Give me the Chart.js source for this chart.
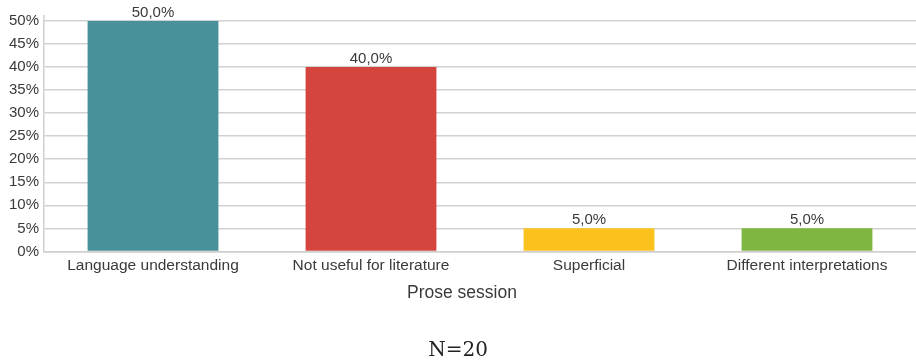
<!DOCTYPE html>
<html>
<head>
<meta charset="utf-8">
<script src="https://cdn.jsdelivr.net/npm/chart.js@4"></script>
<style>
  html, body { margin: 0; padding: 0; background: #fff; }
  #wrap { width: 916px; height: 361px; position: relative; }
</style>
</head>
<body>
<div id="wrap"><canvas id="chart"></canvas></div>
<script>
/* Prose session — reasons, bar chart */

const CATEGORIES = ['Language understanding', 'Not useful for literature', 'Superficial', 'Different interpretations'];
const VALUES = [50.0, 40.0, 5.0, 5.0];
const BAR_COLORS = ['#48919b', '#d4453e', '#fbc21e', '#7fb641'];
const Y_TICKS = [0, 5, 10, 15, 20, 25, 30, 35, 40, 45, 50];
const X_TITLE = 'Prose session';
const NOTE = 'N=20';

const SANS = "'Liberation Sans', Arial, Helvetica, sans-serif";
const SERIF = "'DejaVu Serif', 'Liberation Serif', Georgia, serif";
const TEXT = '#3a3a3a';

/* ─── value labels, axis title, axis stub ─── */
const extras = {
  id: 'extras',
  afterDatasetsDraw(chart) {
    const ctx = chart.ctx;
    const area = chart.chartArea;
    const meta = chart.getDatasetMeta(0);
    ctx.save();

    // y axis line pokes a little above the top gridline
    ctx.strokeStyle = '#cfcfcf';
    ctx.lineWidth = 1.5;
    ctx.beginPath();
    ctx.moveTo(area.left, area.top);
    ctx.lineTo(area.left, area.top - 6);
    ctx.stroke();

    ctx.font = '15px ' + SANS;
    ctx.fillStyle = TEXT;
    ctx.textAlign = 'center';
    ctx.textBaseline = 'alphabetic';
    meta.data.forEach((bar, i) => {
      const txt = VALUES[i].toFixed(1).replace('.', ',') + '%';
      ctx.fillText(txt, bar.x, bar.y - 4);
    });

    // x axis title, centred on the page rather than the plot
    ctx.font = '17.5px ' + SANS;
    ctx.textBaseline = 'middle';
    ctx.fillText(X_TITLE, chart.width / 2 + 4, area.bottom + 42);
    ctx.restore();
  }
};

new Chart(document.getElementById('chart'), {
  type: 'bar',
  data: {
    labels: CATEGORIES,
    datasets: [{
      data: VALUES,
      backgroundColor: BAR_COLORS,
      borderWidth: 0,
      barPercentage: 0.6,
      categoryPercentage: 1
    }]
  },
  options: {
    responsive: true,
    maintainAspectRatio: false,
    animation: false,
    layout: { padding: { top: 21, right: 0, bottom: 0, left: 0 } },
    plugins: {
      legend: { display: false },
      tooltip: { enabled: false },
      title: {
        display: true,
        position: 'bottom',
        text: NOTE,
        color: '#222',
        align: 'center',
        font: { family: SERIF, size: 20, weight: 'normal', lineHeight: 1.0 },
        padding: { top: 61, bottom: 0 }
      }
    },
    scales: {
      x: {
        grid: { display: false, drawTicks: false },
        border: { color: '#cfcfcf', width: 1.5 },
        ticks: { color: TEXT, font: { family: SANS, size: 15.5 }, padding: 5, maxRotation: 0, autoSkip: false }
      },
      y: {
        min: 0,
        max: 50,
        afterFit: s => { s.width = 44; },
        afterBuildTicks: s => { s.ticks = Y_TICKS.map(v => ({ value: v })); },
        grid: { color: '#d2d2d2', lineWidth: 1.5, drawTicks: false },
        border: { color: '#cfcfcf', width: 1.5 },
        ticks: {
          color: TEXT,
          font: { family: SANS, size: 15 },
          padding: 5,
          callback: v => v + '%'
        }
      }
    }
  },
  plugins: [extras]
});
</script>
</body>
</html>
